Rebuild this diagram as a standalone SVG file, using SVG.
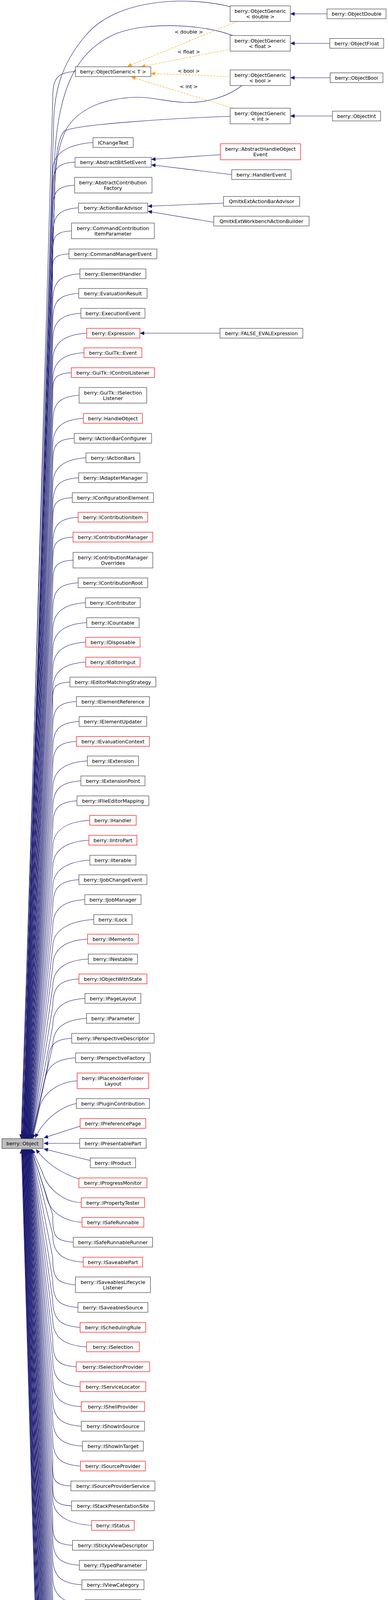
<svg xmlns="http://www.w3.org/2000/svg" width="993" height="5730" viewBox="0 0 993 5730">
<style>
rect{fill:#fff;stroke:#404040;stroke-width:1.2}
.r rect{stroke:#ff0000}
.root rect{fill:#bfbfbf}
text{font-family:"DejaVu Sans",sans-serif;font-size:12.7px;fill:#000;text-anchor:middle}
#edges path{fill:none;stroke:#191970;stroke-width:1.1;marker-end:url(#a)}
#edges path.d{stroke:#ffa500;stroke-dasharray:5,3;marker-end:url(#o)}
</style>
<defs>
<marker id="a" markerWidth="12" markerHeight="10" refX="11" refY="5" orient="auto" markerUnits="userSpaceOnUse"><path d="M0,0 L11,5 L0,10 z" fill="#191970"/></marker>
<marker id="o" markerWidth="12" markerHeight="10" refX="11" refY="5" orient="auto" markerUnits="userSpaceOnUse"><path d="M0,0 L11,5 L0,10 z" fill="#ffa500"/></marker>
</defs>
<g id="edges">
<path d="M589,17 C480,-10 300,-5 220,90 C150,170 137,250 137,330 L54,2915"/>
<path d="M596,91 C520,62 380,55 300,85 C200,125 150,220 140,400 L55,2915"/>
<path d="M619,219 C580,250 520,265 470,262 C420,260 380,245 330,250 C260,255 200,280 170,330 C150,370 140,420 140,500 L56,2915"/>
<path d="M589,298 C450,302 200,318 165,335 C150,350 140,400 140,500 L58,2915"/>
<path class="d" d="M606,55 L326,170"/>
<path class="d" d="M583,127 L361,171"/>
<path class="d" d="M583,196 L386,188"/>
<path class="d" d="M597,277 L336,197"/>
<path d="M837,35.5 L743,35.5"/>
<path d="M844,111 L743,111"/>
<path d="M845,199 L743,199"/>
<path d="M851,297 L743,297"/>
<path d="M564,396 L387,408"/>
<path d="M593,447 L387,422"/>
<path d="M572,520 L378,528"/>
<path d="M547,569 L378,541"/>
<path d="M563,853 L358,853"/>
<path d="M193,183 C143,186 135,203 135,253 L57,2915"/>
<path d="M238,365 C188,368 135,385 135,435 L59,2915"/>
<path d="M192,415 C142,418 135,435 135,485 L59,2915"/>
<path d="M191,474 C141,477 135,494 135,544 L60,2915"/>
<path d="M201,532 C151,535 135,552 135,602 L60,2915"/>
<path d="M183,591 C133,594 135,611 135,661 L61,2915"/>
<path d="M176.5,650 C126,653 135,670 135,720 L61,2915"/>
<path d="M204.5,701 C154,704 135,721 135,771 L62,2915"/>
<path d="M201.5,751 C151,754 135,771 135,821 L62,2915"/>
<path d="M207,802 C157,805 135,822 135,872 L63,2915"/>
<path d="M222,853 C172,856 135,873 135,923 L63,2915"/>
<path d="M215,903 C165,906 135,923 135,973 L64,2915"/>
<path d="M182.5,954 C132,957 135,974 135,1024 L64,2915"/>
<path d="M202.5,1012 C152,1015 135,1032 135,1082 L65,2915"/>
<path d="M213.5,1071 C163,1074 135,1091 135,1141 L65,2915"/>
<path d="M190,1122 C140,1125 135,1142 135,1192 L66,2915"/>
<path d="M220,1172 C170,1175 135,1192 135,1242 L66,2915"/>
<path d="M201.5,1223 C151,1226 135,1243 135,1293 L67,2915"/>
<path d="M185,1274 C135,1277 135,1294 135,1344 L67,2915"/>
<path d="M200,1324 C150,1327 135,1344 135,1394 L68,2915"/>
<path d="M187,1375 C137,1378 135,1395 135,1445 L68,2915"/>
<path d="M187,1434 C137,1437 135,1454 135,1504 L69,2915"/>
<path d="M200,1492 C150,1495 135,1512 135,1562 L69,2915"/>
<path d="M219,1543 C169,1546 135,1563 135,1613 L70,2915"/>
<path d="M222,1594 C172,1597 135,1614 135,1664 L70,2915"/>
<path d="M219.5,1644 C169,1647 135,1664 135,1714 L71,2915"/>
<path d="M219.5,1695 C169,1698 135,1715 135,1765 L71,2915"/>
<path d="M179,1746 C129,1749 135,1766 135,1816 L72,2915"/>
<path d="M195.5,1796 C145,1799 135,1816 135,1866 L72,2915"/>
<path d="M202.5,1847 C152,1850 135,1867 135,1917 L73,2915"/>
<path d="M195.5,1898 C145,1901 135,1918 135,1968 L73,2915"/>
<path d="M223.5,1948 C173,1951 135,1968 135,2018 L74,2915"/>
<path d="M207,1999 C157,2002 135,2019 135,2069 L74,2915"/>
<path d="M197,2050 C147,2053 135,2070 135,2120 L75,2915"/>
<path d="M229.5,2100 C179,2103 135,2120 135,2170 L75,2915"/>
<path d="M227.5,2151 C177,2154 135,2171 135,2221 L76,2915"/>
<path d="M230,2202 C180,2205 135,2222 135,2272 L76,2915"/>
<path d="M202,2252 C152,2255 135,2272 135,2322 L77,2915"/>
<path d="M217,2303 C167,2306 135,2323 135,2373 L77,2915"/>
<path d="M240,2354 C190,2357 135,2374 135,2424 L78,2915"/>
<path d="M224,2404 C174,2407 135,2424 135,2474 L78,2915"/>
<path d="M226,2455 C176,2458 135,2475 135,2525 L79,2915"/>
<path d="M202,2506 C152,2509 135,2526 135,2576 L79,2915"/>
<path d="M217.5,2556 C167,2559 135,2576 135,2626 L80,2915"/>
<path d="M221.5,2607 C171,2610 135,2627 135,2677 L80,2915"/>
<path d="M183.5,2658 C133,2661 125,2678 122,2728 L81,2915"/>
<path d="M193.5,2708 C143,2711 118,2728 112,2778 L82,2915"/>
<path d="M197.5,2767 C147,2770 108,2800 100,2840 L84,2915"/>
<path d="M195.5,2825 C150,2835 110,2870 90,2913"/>
<path d="M205,2883 L112,2913"/>
<path d="M204,2927 L112,2927"/>
<path d="M231,2971 L112,2941"/>
<path d="M202,3018 C160,3005 120,2980 92,2942"/>
<path d="M208,3079 C158,3076 120,3040 108,3000 L82,2942"/>
<path d="M210,3129 C160,3126 125,3100 118,3060 L81,2942"/>
<path d="M187.5,3180 C137,3177 135,3160 135,3110 L80.5,2942"/>
<path d="M213,3231 C163,3228 135,3211 135,3161 L80,2942"/>
<path d="M193,3289 C143,3286 135,3269 135,3219 L79,2942"/>
<path d="M199.5,3347 C149,3344 135,3327 135,3277 L79,2942"/>
<path d="M205,3398 C155,3395 135,3378 135,3328 L78,2942"/>
<path d="M221.5,3448 C171,3445 135,3428 135,3378 L78,2942"/>
<path d="M195,3499 C145,3496 135,3479 135,3429 L77,2942"/>
<path d="M205,3550 C155,3547 135,3530 135,3480 L77,2942"/>
<path d="M208,3601 C158,3598 135,3581 135,3531 L76,2942"/>
<path d="M208,3651 C158,3648 135,3631 135,3581 L76,2942"/>
<path d="M211,3702 C161,3699 135,3682 135,3632 L75,2942"/>
<path d="M206,3753 C156,3750 135,3733 135,3683 L75,2942"/>
<path d="M181.5,3804 C131,3801 135,3784 135,3734 L74,2942"/>
<path d="M183,3855 C133,3852 135,3835 135,3785 L74,2942"/>
<path d="M234.5,3905 C184,3902 135,3885 135,3835 L73,2942"/>
<path d="M185.5,3956 C135,3953 135,3936 135,3886 L73,2942"/>
<path d="M203,4007 C153,4004 135,3987 135,3937 L72,2942"/>
<path d="M209.5,4057 C159,4054 135,4037 135,3987 L72,2942"/>
<path d="M217.5,4108 C167,4105 135,4088 135,4038 L71,2942"/>
<path d="M185.5,4159 C135,4156 135,4139 135,4089 L71,2942"/>
<path d="M203.5,4210 C153,4207 135,4190 135,4140 L70,2942"/>
<path d="M206.5,4260 C156,4257 135,4240 135,4190 L70,2942"/>
<path d="M173.5,4311 C123,4308 135,4291 135,4241 L69,2942"/>
<path d="M173.5,4362 C123,4359 135,4342 135,4292 L69,2942"/>
<path d="M159.5,4412 C109,4409 135,4392 135,4342 L68,2942"/>
<path d="M189,4463 C139,4460 135,4443 135,4393 L68,2942"/>
<path d="M216,4514 C166,4511 135,4494 135,4444 L67,2942"/>
<path d="M205.5,4564 C155,4561 135,4544 135,4494 L67,2942"/>
<path d="M217.5,4615 C167,4612 135,4595 135,4545 L66,2942"/>
<path d="M203.5,4666 C153,4663 135,4646 135,4596 L66,2942"/>
<path d="M208.5,4717 C158,4714 135,4697 135,4647 L65,2942"/>
<path d="M177,4767 C127,4764 135,4747 135,4697 L65,2942"/>
<path d="M208,4818 C158,4815 135,4798 135,4748 L64,2942"/>
<path d="M202,4869 C152,4866 135,4849 135,4799 L64,2942"/>
<path d="M187,4919 C137,4916 135,4899 135,4849 L63,2942"/>
<path d="M193.5,4970 C143,4967 135,4950 135,4900 L63,2942"/>
<path d="M227.5,5021 C177,5018 135,5001 135,4951 L62,2942"/>
<path d="M195,5079 C145,5076 135,5059 135,5009 L61.5,2942"/>
<path d="M180,5137 C130,5134 135,5117 135,5067 L61,2942"/>
<path d="M241.5,5188 C191,5185 135,5168 135,5118 L60,2942"/>
<path d="M223,5238 C173,5235 135,5218 135,5168 L60,2942"/>
<path d="M208,5289 C158,5286 135,5269 135,5219 L59,2942"/>
<path d="M203.5,5340 C153,5337 135,5320 135,5270 L59,2942"/>
<path d="M198,5390 C148,5387 135,5370 135,5320 L58,2942"/>
<path d="M240,5441 C190,5438 135,5421 135,5371 L58,2942"/>
<path d="M223.5,5492 C173,5489 135,5472 135,5422 L57,2942"/>
<path d="M193.5,5550 C143,5547 135,5530 135,5480 L57,2942"/>
<path d="M205.5,5608 C155,5605 135,5588 135,5538 L56,2942"/>
<path d="M183.5,5659 C133,5656 135,5639 135,5589 L56,2942"/>
<path d="M179.5,5710 C129,5707 135,5690 135,5640 L55,2942"/>
</g>
<g id="labels">
<text x="483" y="86">&lt; double &gt;</text>
<text x="483" y="137">&lt; float &gt;</text>
<text x="483" y="186">&lt; bool &gt;</text>
<text x="483" y="226">&lt; int &gt;</text>
</g>
<g id="root" class="root"><rect x="5" y="2915" width="105" height="25"/><text x="57.5" y="2932">berry::Object</text></g>
<g id="og_double"><rect x="589" y="15" width="154" height="40"/><text x="666" y="32.5">berry::ObjectGeneric</text><text x="666" y="47">&lt; double &gt;</text></g>
<g id="og_float"><rect x="589" y="91" width="154" height="40"/><text x="666" y="108.5">berry::ObjectGeneric</text><text x="666" y="123">&lt; float &gt;</text></g>
<g id="og_bool"><rect x="589" y="179" width="154" height="40"/><text x="666" y="196.5">berry::ObjectGeneric</text><text x="666" y="211">&lt; bool &gt;</text></g>
<g id="og_int"><rect x="589" y="277" width="154" height="40"/><text x="666" y="294.5">berry::ObjectGeneric</text><text x="666" y="309">&lt; int &gt;</text></g>
<g id="odouble"><rect x="837" y="23" width="151" height="25"/><text x="912.5" y="40">berry::ObjectDouble</text></g>
<g id="ofloat"><rect x="844" y="98.5" width="138" height="25"/><text x="913" y="115.5">berry::ObjectFloat</text></g>
<g id="obool"><rect x="845" y="186.5" width="135" height="25"/><text x="912.5" y="203.5">berry::ObjectBool</text></g>
<g id="oint"><rect x="851" y="284.5" width="123" height="25"/><text x="912.5" y="301.5">berry::ObjectInt</text></g>
<g id="ahoe" class="r"><rect x="564" y="368" width="205" height="41"/><text x="666.5" y="385.5">berry::AbstractHandleObject</text><text x="666.5" y="400">Event</text></g>
<g id="handlerevent"><rect x="593" y="434.5" width="152" height="25"/><text x="669" y="451.5">berry::HandlerEvent</text></g>
<g id="qeaba"><rect x="572" y="503" width="195" height="25"/><text x="669.5" y="520">QmitkExtActionBarAdvisor</text></g>
<g id="qewab"><rect x="547" y="553.5" width="244" height="25"/><text x="669" y="570.5">QmitkExtWorkbenchActionBuilder</text></g>
<g id="falseeval"><rect x="563" y="840.5" width="212" height="25"/><text x="669" y="857.5">berry::FALSE_EVALExpression</text></g>
<g id="n1"><rect x="193" y="171" width="193" height="25"/><text x="289.5" y="188">berry::ObjectGeneric&lt; T &gt;</text></g>
<g id="n2"><rect x="238" y="352.5" width="103" height="25"/><text x="289.5" y="369.5">IChangeText</text></g>
<g id="n3"><rect x="192" y="403" width="195" height="25"/><text x="289.5" y="420">berry::AbstractBitSetEvent</text></g>
<g id="n4"><rect x="191" y="454" width="198" height="40"/><text x="289" y="471.5">berry::AbstractContribution</text><text x="289" y="486">Factory</text></g>
<g id="n5"><rect x="201" y="520" width="177" height="25"/><text x="289.5" y="537">berry::ActionBarAdvisor</text></g>
<g id="n6"><rect x="183" y="571" width="212" height="40"/><text x="289" y="588.5">berry::CommandContribution</text><text x="289" y="603">ItemParameter</text></g>
<g id="n7"><rect x="176.5" y="637.5" width="225" height="25"/><text x="289" y="654.5">berry::CommandManagerEvent</text></g>
<g id="n8"><rect x="204.5" y="688.5" width="169" height="25"/><text x="289" y="705.5">berry::ElementHandler</text></g>
<g id="n9"><rect x="201.5" y="738.5" width="175" height="25"/><text x="289" y="755.5">berry::EvaluationResult</text></g>
<g id="n10"><rect x="207" y="789.5" width="164" height="25"/><text x="289" y="806.5">berry::ExecutionEvent</text></g>
<g id="n11" class="r"><rect x="222" y="840.5" width="136" height="25"/><text x="290" y="857.5">berry::Expression</text></g>
<g id="n12" class="r"><rect x="215" y="890.5" width="148" height="25"/><text x="289" y="907.5">berry::GuiTk::Event</text></g>
<g id="n13" class="r"><rect x="182.5" y="941.5" width="213" height="25"/><text x="289" y="958.5">berry::GuiTk::IControlListener</text></g>
<g id="n14"><rect x="202.5" y="992" width="173" height="40"/><text x="289" y="1009.5">berry::GuiTk::ISelection</text><text x="289" y="1024">Listener</text></g>
<g id="n15" class="r"><rect x="213.5" y="1058.5" width="151" height="25"/><text x="289" y="1075.5">berry::HandleObject</text></g>
<g id="n16"><rect x="190" y="1109.5" width="198" height="25"/><text x="289" y="1126.5">berry::IActionBarConfigurer</text></g>
<g id="n17"><rect x="220" y="1159.5" width="138" height="25"/><text x="289" y="1176.5">berry::IActionBars</text></g>
<g id="n18"><rect x="201.5" y="1210.5" width="175" height="25"/><text x="289" y="1227.5">berry::IAdapterManager</text></g>
<g id="n19"><rect x="185" y="1261.5" width="208" height="25"/><text x="289" y="1278.5">berry::IConfigurationElement</text></g>
<g id="n20" class="r"><rect x="200" y="1311.5" width="178" height="25"/><text x="289" y="1328.5">berry::IContributionItem</text></g>
<g id="n21" class="r"><rect x="187" y="1362.5" width="204" height="25"/><text x="289" y="1379.5">berry::IContributionManager</text></g>
<g id="n22"><rect x="187" y="1414" width="204" height="40"/><text x="289" y="1431.5">berry::IContributionManager</text><text x="289" y="1446">Overrides</text></g>
<g id="n23"><rect x="200" y="1479.5" width="178" height="25"/><text x="289" y="1496.5">berry::IContributionRoot</text></g>
<g id="n24"><rect x="219" y="1530.5" width="140" height="25"/><text x="289" y="1547.5">berry::IContributor</text></g>
<g id="n25"><rect x="222" y="1581.5" width="134" height="25"/><text x="289" y="1598.5">berry::ICountable</text></g>
<g id="n26" class="r"><rect x="219.5" y="1631.5" width="139" height="25"/><text x="289" y="1648.5">berry::IDisposable</text></g>
<g id="n27" class="r"><rect x="219.5" y="1682.5" width="139" height="25"/><text x="289" y="1699.5">berry::IEditorInput</text></g>
<g id="n28"><rect x="179" y="1733.5" width="220" height="25"/><text x="289" y="1750.5">berry::IEditorMatchingStrategy</text></g>
<g id="n29"><rect x="195.5" y="1783.5" width="187" height="25"/><text x="289" y="1800.5">berry::IElementReference</text></g>
<g id="n30"><rect x="202.5" y="1834.5" width="173" height="25"/><text x="289" y="1851.5">berry::IElementUpdater</text></g>
<g id="n31" class="r"><rect x="195.5" y="1885.5" width="187" height="25"/><text x="289" y="1902.5">berry::IEvaluationContext</text></g>
<g id="n32"><rect x="223.5" y="1935.5" width="131" height="25"/><text x="289" y="1952.5">berry::IExtension</text></g>
<g id="n33"><rect x="207" y="1986.5" width="164" height="25"/><text x="289" y="2003.5">berry::IExtensionPoint</text></g>
<g id="n34"><rect x="197" y="2037.5" width="184" height="25"/><text x="289" y="2054.5">berry::IFileEditorMapping</text></g>
<g id="n35" class="r"><rect x="229.5" y="2087.5" width="119" height="25"/><text x="289" y="2104.5">berry::IHandler</text></g>
<g id="n36" class="r"><rect x="227.5" y="2138.5" width="123" height="25"/><text x="289" y="2155.5">berry::IIntroPart</text></g>
<g id="n37"><rect x="230" y="2189.5" width="118" height="25"/><text x="289" y="2206.5">berry::IIterable</text></g>
<g id="n38"><rect x="202" y="2239.5" width="174" height="25"/><text x="289" y="2256.5">berry::IJobChangeEvent</text></g>
<g id="n39"><rect x="217" y="2290.5" width="144" height="25"/><text x="289" y="2307.5">berry::IJobManager</text></g>
<g id="n40"><rect x="240" y="2341.5" width="98" height="25"/><text x="289" y="2358.5">berry::ILock</text></g>
<g id="n41" class="r"><rect x="224" y="2391.5" width="130" height="25"/><text x="289" y="2408.5">berry::IMemento</text></g>
<g id="n42"><rect x="226" y="2442.5" width="126" height="25"/><text x="289" y="2459.5">berry::INestable</text></g>
<g id="n43" class="r"><rect x="202" y="2493.5" width="174" height="25"/><text x="289" y="2510.5">berry::IObjectWithState</text></g>
<g id="n44"><rect x="217.5" y="2543.5" width="143" height="25"/><text x="289" y="2560.5">berry::IPageLayout</text></g>
<g id="n45"><rect x="221.5" y="2594.5" width="135" height="25"/><text x="289" y="2611.5">berry::IParameter</text></g>
<g id="n46"><rect x="183.5" y="2645.5" width="211" height="25"/><text x="289" y="2662.5">berry::IPerspectiveDescriptor</text></g>
<g id="n47"><rect x="193.5" y="2695.5" width="191" height="25"/><text x="289" y="2712.5">berry::IPerspectiveFactory</text></g>
<g id="n48" class="r"><rect x="197.5" y="2747" width="183" height="40"/><text x="289" y="2764.5">berry::IPlaceholderFolder</text><text x="289" y="2779">Layout</text></g>
<g id="n49"><rect x="195.5" y="2812.5" width="187" height="25"/><text x="289" y="2829.5">berry::IPluginContribution</text></g>
<g id="n50" class="r"><rect x="205" y="2863.5" width="168" height="25"/><text x="289" y="2880.5">berry::IPreferencePage</text></g>
<g id="n51"><rect x="204" y="2914.5" width="170" height="25"/><text x="289" y="2931.5">berry::IPresentablePart</text></g>
<g id="n52"><rect x="231" y="2964.5" width="116" height="25"/><text x="289" y="2981.5">berry::IProduct</text></g>
<g id="n53" class="r"><rect x="202" y="3015.5" width="174" height="25"/><text x="289" y="3032.5">berry::IProgressMonitor</text></g>
<g id="n54" class="r"><rect x="208" y="3066.5" width="162" height="25"/><text x="289" y="3083.5">berry::IPropertyTester</text></g>
<g id="n55" class="r"><rect x="210" y="3116.5" width="158" height="25"/><text x="289" y="3133.5">berry::ISafeRunnable</text></g>
<g id="n56"><rect x="187.5" y="3167.5" width="203" height="25"/><text x="289" y="3184.5">berry::ISafeRunnableRunner</text></g>
<g id="n57" class="r"><rect x="213" y="3218.5" width="152" height="25"/><text x="289" y="3235.5">berry::ISaveablePart</text></g>
<g id="n58"><rect x="193" y="3269" width="192" height="40"/><text x="289" y="3286.5">berry::ISaveablesLifecycle</text><text x="289" y="3301">Listener</text></g>
<g id="n59"><rect x="199.5" y="3334.5" width="179" height="25"/><text x="289" y="3351.5">berry::ISaveablesSource</text></g>
<g id="n60" class="r"><rect x="205" y="3385.5" width="168" height="25"/><text x="289" y="3402.5">berry::ISchedulingRule</text></g>
<g id="n61" class="r"><rect x="221.5" y="3435.5" width="135" height="25"/><text x="289" y="3452.5">berry::ISelection</text></g>
<g id="n62" class="r"><rect x="195" y="3486.5" width="188" height="25"/><text x="289" y="3503.5">berry::ISelectionProvider</text></g>
<g id="n63" class="r"><rect x="205" y="3537.5" width="168" height="25"/><text x="289" y="3554.5">berry::IServiceLocator</text></g>
<g id="n64" class="r"><rect x="208" y="3588.5" width="162" height="25"/><text x="289" y="3605.5">berry::IShellProvider</text></g>
<g id="n65"><rect x="208" y="3638.5" width="162" height="25"/><text x="289" y="3655.5">berry::IShowInSource</text></g>
<g id="n66"><rect x="211" y="3689.5" width="156" height="25"/><text x="289" y="3706.5">berry::IShowInTarget</text></g>
<g id="n67" class="r"><rect x="206" y="3740.5" width="166" height="25"/><text x="289" y="3757.5">berry::ISourceProvider</text></g>
<g id="n68"><rect x="181.5" y="3791.5" width="215" height="25"/><text x="289" y="3808.5">berry::ISourceProviderService</text></g>
<g id="n69"><rect x="183" y="3842.5" width="212" height="25"/><text x="289" y="3859.5">berry::IStackPresentationSite</text></g>
<g id="n70" class="r"><rect x="234.5" y="3892.5" width="109" height="25"/><text x="289" y="3909.5">berry::IStatus</text></g>
<g id="n71"><rect x="185.5" y="3943.5" width="207" height="25"/><text x="289" y="3960.5">berry::IStickyViewDescriptor</text></g>
<g id="n72"><rect x="203" y="3994.5" width="172" height="25"/><text x="289" y="4011.5">berry::ITypedParameter</text></g>
<g id="n73"><rect x="209.5" y="4044.5" width="159" height="25"/><text x="289" y="4061.5">berry::IViewCategory</text></g>
<g id="n74"><rect x="217.5" y="4095.5" width="143" height="25"/><text x="289" y="4112.5">berry::IViewLayout</text></g>
<g id="n75"><rect x="185.5" y="4146.5" width="207" height="25"/><text x="289" y="4163.5">berry::IWorkbenchConfigurer</text></g>
<g id="n76"><rect x="203.5" y="4197.5" width="171" height="25"/><text x="289" y="4214.5">berry::IWorkbenchPage</text></g>
<g id="n77" class="r"><rect x="206.5" y="4247.5" width="165" height="25"/><text x="289" y="4264.5">berry::IWorkbenchPart</text></g>
<g id="n78" class="r"><rect x="173.5" y="4298.5" width="231" height="25"/><text x="289" y="4315.5">berry::IWorkbenchPartDescriptor</text></g>
<g id="n79" class="r"><rect x="173.5" y="4349.5" width="231" height="25"/><text x="289" y="4366.5">berry::IWorkbenchPartReference</text></g>
<g id="n80"><rect x="159.5" y="4399.5" width="259" height="25"/><text x="289" y="4416.5">berry::IWorkbenchWindowConfigurer</text></g>
<g id="n81"><rect x="189" y="4450.5" width="200" height="25"/><text x="289" y="4467.5">berry::IntroContentDetector</text></g>
<g id="n82"><rect x="216" y="4501.5" width="146" height="25"/><text x="289" y="4518.5">berry::LockListener</text></g>
<g id="n83"><rect x="205.5" y="4551.5" width="167" height="25"/><text x="289" y="4568.5">berry::ObjectList&lt; T &gt;</text></g>
<g id="n84"><rect x="217.5" y="4602.5" width="143" height="25"/><text x="289" y="4619.5">berry::ObjectString</text></g>
<g id="n85"><rect x="203.5" y="4653.5" width="171" height="25"/><text x="289" y="4670.5">berry::ObjectStringMap</text></g>
<g id="n86"><rect x="208.5" y="4704.5" width="161" height="25"/><text x="289" y="4721.5">berry::ObjectTypeInfo</text></g>
<g id="n87"><rect x="177" y="4754.5" width="224" height="25"/><text x="289" y="4771.5">berry::ParameterizedCommand</text></g>
<g id="n88"><rect x="208" y="4805.5" width="162" height="25"/><text x="289" y="4822.5">berry::PlatformObject</text></g>
<g id="n89"><rect x="202" y="4856.5" width="174" height="25"/><text x="289" y="4873.5">berry::ProgressProvider</text></g>
<g id="n90"><rect x="187" y="4906.5" width="204" height="25"/><text x="289" y="4923.5">berry::PropertyChangeEvent</text></g>
<g id="n91"><rect x="193.5" y="4957.5" width="191" height="25"/><text x="289" y="4974.5">berry::QModelIndexObject</text></g>
<g id="n92"><rect x="227.5" y="5008.5" width="123" height="25"/><text x="289" y="5025.5">berry::Saveable</text></g>
<g id="n93"><rect x="195" y="5059" width="188" height="40"/><text x="289" y="5076.5">berry::SaveablesLifecycle</text><text x="289" y="5091">Event</text></g>
<g id="n94"><rect x="180" y="5124.5" width="218" height="25"/><text x="289" y="5141.5">berry::SelectionChangedEvent</text></g>
<g id="n95"><rect x="241.5" y="5175.5" width="95" height="25"/><text x="289" y="5192.5">berry::Shell</text></g>
<g id="n96"><rect x="223" y="5225.5" width="132" height="25"/><text x="289" y="5242.5">berry::ShellEvent</text></g>
<g id="n97"><rect x="208" y="5276.5" width="162" height="25"/><text x="289" y="5293.5">berry::ShowInContext</text></g>
<g id="n98"><rect x="203.5" y="5327.5" width="171" height="25"/><text x="289" y="5344.5">berry::StackDropResult</text></g>
<g id="n99"><rect x="198" y="5377.5" width="182" height="25"/><text x="289" y="5394.5">berry::StackPresentation</text></g>
<g id="n100"><rect x="240" y="5428.5" width="98" height="25"/><text x="289" y="5445.5">berry::State</text></g>
<g id="n101"><rect x="223.5" y="5479.5" width="131" height="25"/><text x="289" y="5496.5">berry::UIElement</text></g>
<g id="n102"><rect x="193.5" y="5530" width="191" height="40"/><text x="289" y="5547.5">berry::Window::IException</text><text x="289" y="5562">Handler</text></g>
<g id="n103"><rect x="205.5" y="5595.5" width="167" height="25"/><text x="289" y="5612.5">mitk::DataNodeObject</text></g>
<g id="n104"><rect x="183.5" y="5646.5" width="211" height="25"/><text x="289" y="5663.5">mitk::IDataStorageReference</text></g>
<g id="n105"><rect x="179.5" y="5697.5" width="219" height="25"/><text x="289" y="5714.5">mitk::MAPAlgorithmInfoObject</text></g>
</svg>
